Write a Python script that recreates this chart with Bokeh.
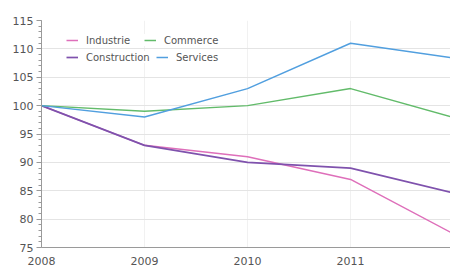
from bokeh.plotting import figure
from bokeh.models import Legend, LegendItem, Label, FixedTicker, Range1d
from bokeh.embed import file_html
from bokeh.resources import INLINE

years = [2008, 2009, 2010, 2011, 2012]
industrie = [100, 93, 91, 87, 77.4]
construction = [100, 93, 90, 89, 84.6]
commerce = [100, 99, 100, 103, 97.9]
services = [100, 98, 103, 111, 108.4]
y_ticks = [75, 80, 85, 90, 95, 100, 105, 110, 115]

FONT = "DejaVu Sans"
TXT = "#555555"

p = figure(width=450, height=269, output_backend="svg", toolbar_location=None,
           x_range=Range1d(2008, 2011.97), y_range=Range1d(75, 115),
           min_border_left=41, min_border_top=20, min_border_right=0, min_border_bottom=22)
p.outline_line_color = None
p.background_fill_color = "white"

r_ind = p.line(years, industrie, line_color="#de6fba", line_width=1.5)
r_con = p.line(years, construction, line_color="#7f52ad", line_width=1.7)
r_com = p.line(years, commerce, line_color="#62bb6a", line_width=1.5)
r_ser = p.line(years, services, line_color="#519fdf", line_width=1.5)

p.xaxis.ticker = FixedTicker(ticks=years)
p.yaxis.ticker = FixedTicker(ticks=y_ticks, minor_ticks=list(range(75, 116)))
for ax in (p.xaxis[0], p.yaxis[0]):
    ax.major_label_text_font = FONT
    ax.major_label_text_font_size = "11px"
    ax.major_label_text_color = TXT
    ax.axis_line_color = "#9a9a9a"
    ax.major_tick_line_color = "#9a9a9a"
    ax.minor_tick_line_color = "#9a9a9a"
p.xaxis.major_tick_out = 0
p.xaxis.major_tick_in = 0
p.xaxis.minor_tick_out = 0
p.xaxis.major_label_standoff = 9
p.yaxis.major_tick_out = 5
p.yaxis.major_tick_in = 0
p.yaxis.minor_tick_out = 3
p.yaxis.minor_tick_in = 0
p.yaxis.major_label_standoff = 3

p.ygrid.grid_line_color = "#e4e4e4"
p.xgrid.grid_line_color = "#f1f1f1"

# partially visible last year label at the right edge
p.add_layout(Label(x=years[-1], y=75, y_offset=-9, text=str(years[-1]),
                   text_align="center", text_baseline="top",
                   text_font=FONT, text_font_size="11px", text_color=TXT))

def mk_legend(item, loc):
    return Legend(items=[item], location=loc, orientation="horizontal",
                  glyph_width=12, glyph_height=12, label_height=12,
                  label_standoff=8, spacing=0, padding=4,
                  label_text_font=FONT, label_text_font_size="10px",
                  label_text_color=TXT, border_line_color=None,
                  background_fill_color="white", background_fill_alpha=1.0,
                  margin=0)

# first row
p.add_layout(mk_legend(LegendItem(label="Industrie", renderers=[r_ind]), (25, 201)))
p.add_layout(mk_legend(LegendItem(label="Commerce", renderers=[r_com]), (103, 201)))
# second row
p.add_layout(mk_legend(LegendItem(label="Construction", renderers=[r_con]), (25, 184)))
p.add_layout(mk_legend(LegendItem(label="Services", renderers=[r_ser]), (115, 184)))

open("out.html", "w").write(file_html(p, INLINE))
